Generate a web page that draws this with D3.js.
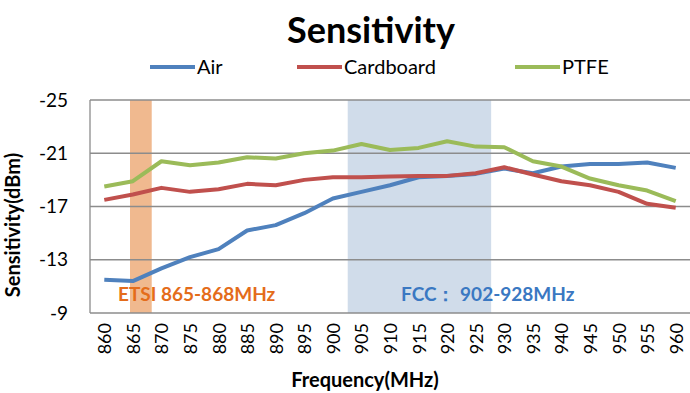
<!DOCTYPE html>
<html lang="en">
<head>
<meta charset="UTF-8">
<title>Sensitivity</title>
<style>
    body { margin: 0; background: #fff; }
    text { font-family: Lato, "Liberation Sans", sans-serif; }
    .grid line { stroke: #8c8c8c; stroke-width: 1.3px; }
    .series { fill: none; stroke-width: 4px; stroke-linejoin: round; }
</style>
</head>
<body>
<script src="https://cdn.jsdelivr.net/npm/d3@7"></script>
<script>
    const freqs = [860, 865, 870, 875, 880, 885, 890, 895, 900, 905, 910,
                   915, 920, 925, 930, 935, 940, 945, 950, 955, 960];
    const air = [-11.5, -11.4, -12.35, -13.2, -13.8, -15.2, -15.6, -16.5, -17.6, -18.1, -18.6,
                 -19.2, -19.3, -19.45, -19.85, -19.5, -20.0, -20.2, -20.2, -20.3, -19.9];
    const cardboard = [-17.5, -17.9, -18.4, -18.1, -18.3, -18.7, -18.6, -19.0, -19.2, -19.2, -19.25,
                       -19.3, -19.3, -19.5, -19.95, -19.4, -18.9, -18.6, -18.1, -17.2, -16.9];
    const ptfe = [-18.5, -18.9, -20.4, -20.1, -20.3, -20.7, -20.6, -21.0, -21.2, -21.7, -21.25,
                  -21.4, -21.9, -21.5, -21.45, -20.4, -20.0, -19.1, -18.6, -18.2, -17.4];
    const yTicks = [-25, -21, -17, -13, -9];

    const seriesNames = ['Air', 'Cardboard', 'PTFE'];
    const seriesColors = ['#4f81bd', '#c0504d', '#9bbb59'];
    const seriesValues = [air, cardboard, ptfe];

    // shaded bands: [from MHz, to MHz]
    const etsiBand = [864.5, 868.3];
    const fccBand = [902.6, 927.7];

    const width = 690, height = 393;
    const plotLeft = 90, plotRight = 690, plotTop = 100, plotBottom = 313;

    const svg = d3.select('body').append('svg')
        .attr('width', width)
        .attr('height', height);

    const x = d3.scaleLinear()
        .domain([freqs[0] - 2.5, freqs[freqs.length - 1] + 2.5])
        .range([plotLeft, plotRight]);
    const y = d3.scaleLinear().domain([-25, -9]).range([plotTop, plotBottom]);

    // bands
    svg.append('rect')
        .attr('x', x(etsiBand[0])).attr('y', plotTop)
        .attr('width', x(etsiBand[1]) - x(etsiBand[0]))
        .attr('height', plotBottom - plotTop)
        .attr('fill', '#f0b98f');
    svg.append('rect')
        .attr('x', x(fccBand[0])).attr('y', plotTop)
        .attr('width', x(fccBand[1]) - x(fccBand[0]))
        .attr('height', plotBottom - plotTop)
        .attr('fill', '#d0dcea');

    // grid
    svg.append('g').attr('class', 'grid')
        .selectAll('line').data(yTicks).join('line')
        .attr('x1', plotLeft).attr('x2', plotRight)
        .attr('y1', d => y(d)).attr('y2', d => y(d));
    svg.append('line')
        .attr('x1', plotLeft).attr('x2', plotLeft).attr('y1', plotTop).attr('y2', plotBottom)
        .attr('stroke', '#8c8c8c').attr('stroke-width', 1.3);

    // y tick labels
    svg.append('g').selectAll('text').data(yTicks).join('text')
        .attr('x', 68).attr('y', d => y(d)).attr('dy', '0.35em')
        .attr('text-anchor', 'end')
        .style('font-size', '19px')
        .text(d => d);

    // x tick labels
    svg.append('g').selectAll('text').data(freqs).join('text')
        .attr('transform', d => `translate(${x(d) + 7},323) rotate(-90)`)
        .attr('text-anchor', 'end')
        .style('font-size', '18px')
        .text(d => d);

    // lines
    const line = d3.line().x((d, i) => x(freqs[i])).y(d => y(d));
    seriesValues.forEach((vals, k) => {
        svg.append('path')
            .datum(vals)
            .attr('class', 'series')
            .attr('stroke', seriesColors[k])
            .attr('d', line);
    });

    // annotations
    svg.append('text')
        .attr('x', 118).attr('y', 301)
        .attr('fill', '#e46c1a')
        .style('font-size', '19px').style('font-weight', 'bold')
        .text('ETSI 865-868MHz');
    svg.append('text')
        .attr('x', 401).attr('y', 301)
        .attr('fill', '#3a78c2')
        .style('font-size', '19px').style('font-weight', 'bold')
        .text('FCC：  902-928MHz');

    // title
    svg.append('text')
        .attr('x', 371).attr('y', 43)
        .attr('text-anchor', 'middle')
        .style('font-size', '36px').style('font-weight', 'bold')
        .text('Sensitivity');

    // legend
    const legendX = [150, 297, 515];
    seriesNames.forEach((name, k) => {
        const g = svg.append('g').attr('transform', `translate(${legendX[k]},67)`);
        g.append('line').attr('x1', 0).attr('x2', 45)
            .attr('stroke', seriesColors[k]).attr('stroke-width', 4);
        g.append('text').attr('x', 47).attr('dy', '0.35em')
            .style('font-size', '20px')
            .text(name);
    });

    // axis titles
    svg.append('text')
        .attr('transform', 'translate(20,225) rotate(-90)')
        .attr('text-anchor', 'middle')
        .style('font-size', '20px').style('font-weight', 'bold')
        .text('Sensitivity(dBm)');
    svg.append('text')
        .attr('x', 365).attr('y', 387)
        .attr('text-anchor', 'middle')
        .style('font-size', '20px').style('font-weight', 'bold')
        .text('Frequency(MHz)');
</script>
</body>
</html>
